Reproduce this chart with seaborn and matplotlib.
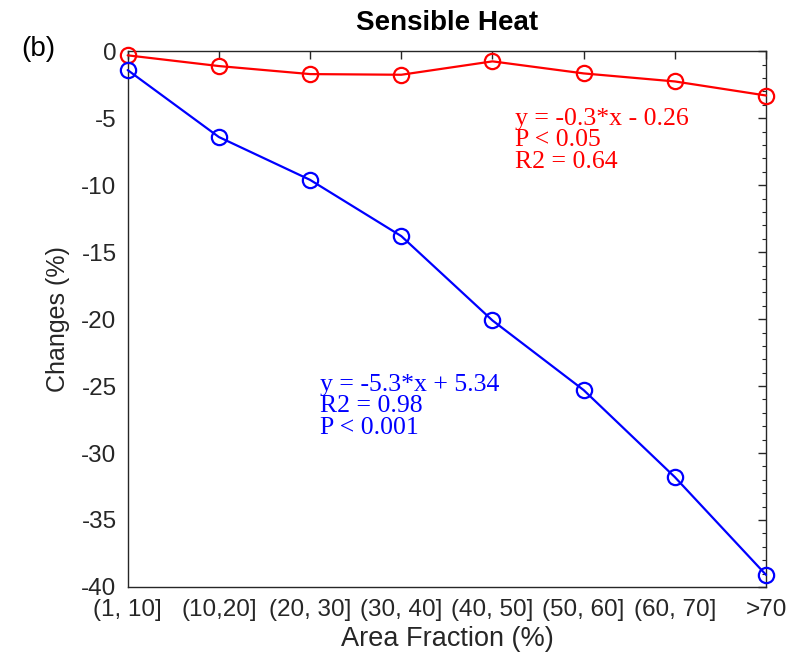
import matplotlib
matplotlib.use("Agg")
import matplotlib.pyplot as plt
import seaborn as sns
import pandas as pd
import numpy as np
from matplotlib.ticker import MultipleLocator

categories = ["(1, 10]", "(10,20]", "(20, 30]", "(30, 40]", "(40, 50]", "(50, 60]", "(60, 70]", ">70"]
red_values = [-0.3, -1.1, -1.7, -1.75, -0.75, -1.65, -2.25, -3.3]
blue_values = [-1.4, -6.4, -9.6, -13.8, -20.1, -25.3, -31.8, -39.1]

sns.set_theme(style="white")
plt.rcParams['font.family'] = ['Liberation Sans', 'DejaVu Sans']
plt.rcParams['axes.unicode_minus'] = False

pos = np.arange(1, len(categories) + 1)
df = pd.DataFrame({
    "x": np.concatenate([pos, pos]),
    "y": red_values + blue_values,
    "series": ["red"] * len(pos) + ["blue"] * len(pos),
})

fig = plt.figure(figsize=(7.98, 6.58), dpi=100)
ax = fig.add_axes([0.160, 0.108, 0.800, 0.814])

sns.lineplot(data=df, x="x", y="y", hue="series", palette={"red": "#ff0000", "blue": "#0000ff"},
             marker="o", markersize=11, markerfacecolor="none", markeredgewidth=1.6,
             linewidth=1.6, ax=ax, legend=False)
for line in ax.lines:
    line.set_markeredgecolor(line.get_color())
    line.set_markerfacecolor("none")
    line.set_clip_on(False)
    line.set_zorder(5)

ax.set_xlim(1, 8)
ax.set_ylim(-40, 0)
ax.set_xticks(pos)
ax.set_xticklabels(categories)
ax.set_yticks(np.arange(-40, 1, 5))
ax.yaxis.set_minor_locator(MultipleLocator(1))
ax.tick_params(axis="both", which="both", direction="in", top=True, right=True,
               labelsize=17.5, colors="#262626")
ax.tick_params(axis="x", which="major", pad=9)
ax.tick_params(axis="y", which="major", pad=8)
ax.tick_params(axis="both", which="major", length=6, width=1)
ax.tick_params(axis="y", which="minor", length=3, width=0.8)
ax.tick_params(axis="x", which="minor", length=0)
for s in ax.spines.values():
    s.set_color("#262626")
    s.set_linewidth(1.0)
ax.grid(False)

ax.set_xlabel("Area Fraction (%)", fontsize=19.5, color="#262626", labelpad=3)
ax.set_ylabel("Changes (%)", fontsize=18, color="#262626", labelpad=8)
ax.set_title("Sensible Heat", fontsize=20, fontweight="bold", color="black", pad=15)
fig.text(0.027, 0.915, "(b)", fontsize=20, color="black")

serif = ['Liberation Serif', 'DejaVu Serif']
ax.text(0.607, 0.895, "y = -0.3*x - 0.26\nP < 0.05\nR2 = 0.64", transform=ax.transAxes,
        color="#ff0000", fontsize=18.5, family=serif, va="top", linespacing=0.98)
ax.text(0.302, 0.398, "y = -5.3*x + 5.34\nR2 = 0.98\nP < 0.001", transform=ax.transAxes,
        color="#0000ff", fontsize=18.5, family=serif, va="top", linespacing=0.98)

fig.savefig("out.png", dpi=100)
